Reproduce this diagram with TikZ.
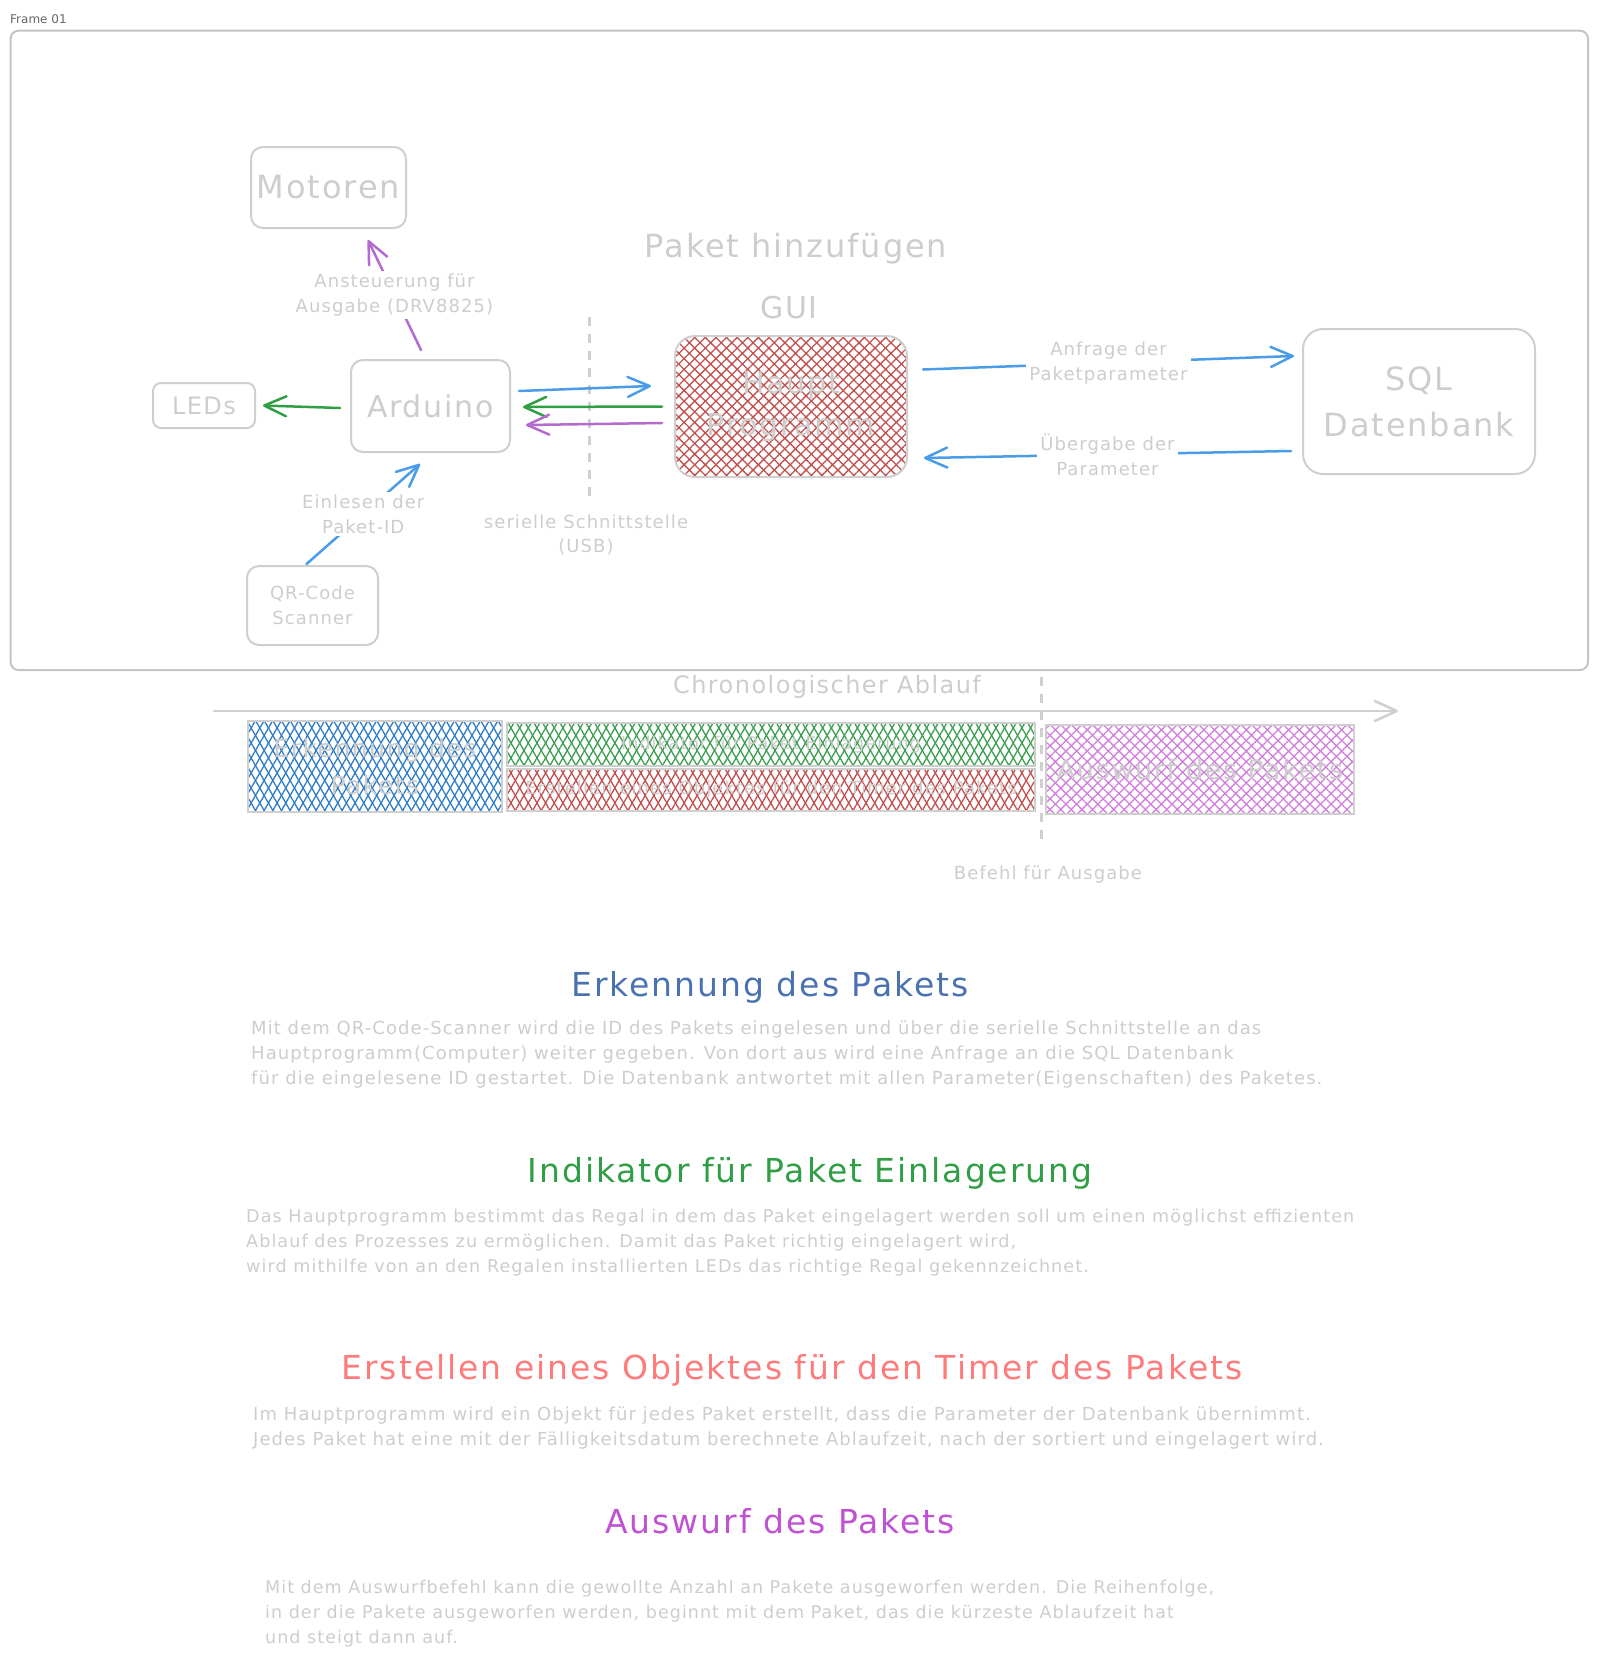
\documentclass[tikz,border=0pt]{standalone}
\usepackage{fontspec}
\setmainfont{DejaVu Sans}[LetterSpace=6]
\newfontfamily\framefont{DejaVu Sans}
\usetikzlibrary{arrows.meta,patterns.meta,calc}
\definecolor{tgrey}{HTML}{CDCDCD}
\definecolor{bgrey}{HTML}{CFCFCF}
\definecolor{fgrey}{HTML}{C4C4C4}
\definecolor{ablue}{HTML}{4A9BE8}
\definecolor{agreen}{HTML}{2F9E44}
\definecolor{apurple}{HTML}{B36BD0}
\definecolor{hblue}{HTML}{2F7CC7}
\definecolor{hgreen}{HTML}{3C9E50}
\definecolor{hred}{HTML}{C24E4E}
\definecolor{hpurple}{HTML}{D07FDD}
\definecolor{tblue}{HTML}{4A72B0}
\definecolor{tgreen}{HTML}{2F9E44}
\definecolor{tred}{HTML}{FF7B7B}
\definecolor{tpurple}{HTML}{BF52D3}
\newcommand{\fsz}[2]{\fontsize{#1}{#2}\selectfont}
\tikzset{
  box/.style={draw=bgrey, line width=2pt, rounded corners=12pt, text=tgrey, inner sep=0pt, align=center},
  bar/.style={draw=bgrey, line width=2pt, text=tgrey, inner sep=0pt, align=center},
  hatch/.style 2 args={
    preaction={pattern={Lines[angle=#1,distance=7.5pt,line width=1.3pt]}, pattern color=#2},
    preaction={pattern={Lines[angle=-#1,distance=7.5pt,line width=1.3pt]}, pattern color=#2}},
  conn/.style={line width=2.5pt, line cap=round, -{Straight Barb[length=22pt,width=20pt,round]}},
  lbl/.style={fill=white, text=tgrey, inner sep=3pt, align=center, font=\fsz{18}{25}},
  greytext/.style={text=tgrey, inner sep=0pt, align=center},
  vdash/.style={draw=bgrey, line width=3pt, dash pattern=on 9pt off 8pt},
  para/.style={text=tgrey, inner sep=0pt, align=left, anchor=north west, font=\fsz{18}{25}},
  head/.style={inner sep=0pt, font=\fsz{33}{36}},
}
\begin{document}
\begin{tikzpicture}[x=1pt,y=-1pt]
\useasboundingbox (0,0) rectangle (1599,1658);

% frame
\node[anchor=west, inner sep=0pt, font=\framefont\fsz{12}{14}, text=black!60] (flabel) at (10,19) {Frame 01};
\draw[draw=fgrey, line width=2pt, rounded corners=8pt] (10.6,30.7) rectangle (1588,670);

% titles
\node[greytext, font=\fsz{32}{36}] (title) at (796,249) {Paket hinzufügen};
\node[greytext, font=\fsz{30}{34}] (gui) at (789,308) {GUI};

% boxes
\node[box, minimum width=155pt, minimum height=81pt, font=\fsz{32}{36}] (mot) at (328.5,187.5) {Motoren};
\node[box, minimum width=159pt, minimum height=92pt, font=\fsz{30}{34}] (ard) at (430.5,406) {Arduino};
\node[box, rounded corners=8pt, minimum width=102pt, minimum height=45pt, font=\fsz{24}{28}] (led) at (204,405.5) {LEDs};
\node[box, minimum width=131pt, minimum height=79pt, font=\fsz{18}{25}] (qr) at (312.5,605.5) {QR-Code\\Scanner};
\node[box, hatch={45}{hred}, rounded corners=20pt, minimum width=232pt, minimum height=141pt, font=\fsz{30}{42}] (hp) at (791,406.5) {Haupt\\Programm};
\node[box, rounded corners=20pt, minimum width=232pt, minimum height=145pt, font=\fsz{32}{46}] (sql) at (1419,401.5) {SQL\\Datenbank};

% serial interface
\coordinate (s0) at (589,317);
\coordinate (s1) at (589,502);
\draw[vdash] (s0) -- (s1);
\node[greytext, font=\fsz{18}{24}] (ser) at (586,535) {serielle Schnittstelle\\(USB)};

% connectors
\draw[conn, apurple] ([shift={(-9.5,-9)}]ard.north) -- node[lbl]{Ansteuerung für\\Ausgabe (DRV8825)} ([shift={(39.5,11)}]mot.south);
\draw[conn, agreen] ([shift={(-10,2)}]ard.west) -- ([shift={(7,0)}]led.east);
\draw[conn, ablue] ([shift={(-6,-1)}]qr.north) -- node[lbl]{Einlesen der\\Paket-ID} ([shift={(-10.5,11)}]ard.south);
\draw[conn, ablue] ([shift={(8,-15)}]ard.east) -- ([shift={(-23,-20.5)}]hp.west);
\draw[conn, agreen] ([shift={(-12,0)}]hp.west) -- ([shift={(12,1)}]ard.east);
\draw[conn, apurple] ([shift={(-12,16.5)}]hp.west) -- ([shift={(15,19)}]ard.east);
\draw[conn, ablue] ([shift={(15,-37)}]hp.east) -- node[lbl]{Anfrage der\\Paketparameter} ([shift={(-8,-45.5)}]sql.west);
\draw[conn, ablue] ([shift={(-11,49.5)}]sql.west) -- node[lbl]{Übergabe der\\Parameter} ([shift={(16,51.5)}]hp.east);

% timeline
\node[greytext, font=\fsz{24}{28}] (chrono) at (827,687) {Chronologischer Ablauf};
\coordinate (t0) at (214,711);
\coordinate (t1) at (1398,711);
\draw[conn, draw=bgrey] (t0) -- (t1);

\node[bar, hatch={60}{hblue}, minimum width=254pt, minimum height=91pt, font=\fsz{25}{37}] (b1) at (375,766.5) {Erkennung des\\Pakets};
\node[bar, hatch={60}{hgreen}, minimum width=528pt, minimum height=43pt, font=\fsz{17.5}{20}] (b2) at (771,744.5) {Indikator für Paket Einlagerung};
\node[bar, hatch={60}{hred}, minimum width=528pt, minimum height=42pt, font=\fsz{18}{20}] (b3) at (771,790) {Erstellen eines Objektes für den Timer des Pakets};
\node[bar, hatch={45}{hpurple}, minimum width=308pt, minimum height=89pt, font=\fsz{27}{30}] (b4) at (1200,769.5) {Auswurf des Pakets};

\coordinate (d0) at (1041,677);
\coordinate (d1) at (1041,846);
\draw[vdash] (d0) -- (d1);
\node[greytext, font=\fsz{18}{22}] (befehl) at (1048,875) {Befehl für Ausgabe};

% descriptions
\node[head, text=tblue] (h1) at (770,987) {Erkennung des Pakets};
\node[para] (p1) at (251,1021) {Mit dem QR-Code-Scanner wird die ID des Pakets eingelesen und über die serielle Schnittstelle an das\\Hauptprogramm(Computer) weiter gegeben. Von dort aus wird eine Anfrage an die SQL Datenbank\\für die eingelesene ID gestartet. Die Datenbank antwortet mit allen Parameter(Eigenschaften) des Paketes.};

\node[head, text=tgreen] (h2) at (810,1173) {Indikator für Paket Einlagerung};
\node[para, font=\fsz{17.6}{25}] (p2) at (246,1209) {Das Hauptprogramm bestimmt das Regal in dem das Paket eingelagert werden soll um einen möglichst effizienten\\Ablauf des Prozesses zu ermöglichen. Damit das Paket richtig eingelagert wird,\\wird mithilfe von an den Regalen installierten LEDs das richtige Regal gekennzeichnet.};

\node[head, text=tred] (h3) at (792,1370) {Erstellen eines Objektes für den Timer des Pakets};
\node[para] (p3) at (253,1407) {Im Hauptprogramm wird ein Objekt für jedes Paket erstellt, dass die Parameter der Datenbank übernimmt.\\Jedes Paket hat eine mit der Fälligkeitsdatum berechnete Ablaufzeit, nach der sortiert und eingelagert wird.};

\node[head, text=tpurple] (h4) at (780,1521) {Auswurf des Pakets};
\node[para, font=\fsz{17.5}{25}] (p4) at (265,1580) {Mit dem Auswurfbefehl kann die gewollte Anzahl an Pakete ausgeworfen werden. Die Reihenfolge,\\in der die Pakete ausgeworfen werden, beginnt mit dem Paket, das die kürzeste Ablaufzeit hat\\und steigt dann auf.};
\end{tikzpicture}
\end{document}
